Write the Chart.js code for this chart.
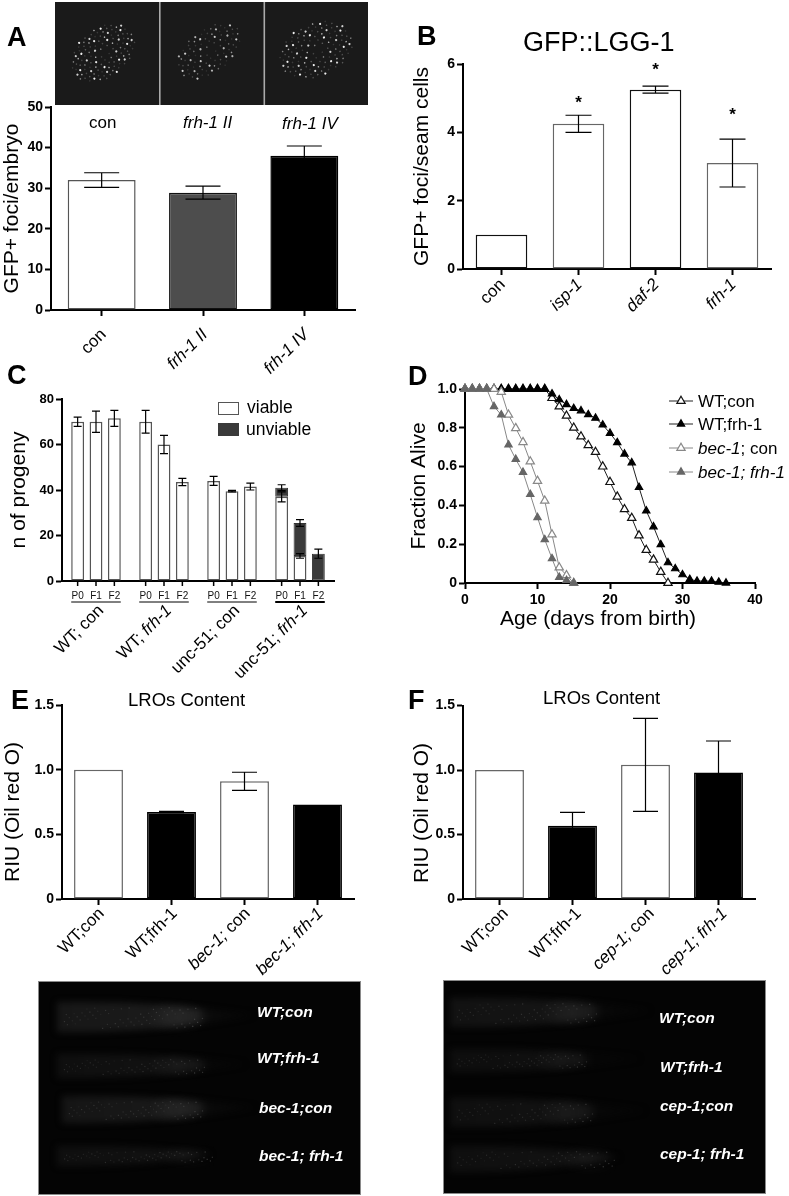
<!DOCTYPE html>
<html>
<head>
<meta charset="utf-8">
<title>frh-1 figure</title>
<script src="https://cdn.jsdelivr.net/npm/chart.js@4"></script>
<style>
  html, body { margin: 0; background: #fff; }
  #page { position: relative; width: 789px; height: 1196px; overflow: hidden; font-family: "Liberation Sans", Arial, sans-serif; color: #000; }
  #page canvas { position: absolute; }
  .txt { position: absolute; white-space: nowrap; line-height: 1; transform: translateY(-50%); }
  .up { transform-origin: center; transform: translate(-50%, -50%) rotate(-90deg); }
  .sw { position: absolute; box-sizing: border-box; border: 1.5px solid #555; background: #fff; }
</style>
</head>
<body>
<div id="page"></div>
<script>
// Panel A
var labelsA = ["con", "frh-1 II", "frh-1 IV"];
var italicA = ["", "frh-1 II", "frh-1 IV"];
var valuesA = [32, 28.9, 38];
var errA = [1.8, 1.6, 2.4];

// Panel B
var labelsB = ["con", "isp-1", "daf-2", "frh-1"];
var italicB = ["", "isp-1", "daf-2", "frh-1"];
var valuesB = [1, 4.25, 5.25, 3.1];
var errB = [0, 0.25, 0.1, 0.7];
var starsB = [null, 4.93, 5.91, 4.6];

// Panel C
var groupsC = ["WT; con", "WT; frh-1", "unc-51; con", "unc-51; frh-1"];
var italicC = ["", "frh-1", "", "frh-1"];
var generations = ["P0", "F1", "F2"];
var viableP0 = [70, 70, 44, 37];
var viableF1 = [70, 60, 39.5, 11];
var viableF2 = [71.5, 43.5, 41.5, 0];
var unviableP0 = [null, null, null, 4];
var unviableF1 = [null, null, null, 14.5];
var unviableF2 = [null, null, null, 12];
var errViableP0 = [2, 5, 2, 2.2];
var errViableF1 = [4.7, 4, 0.3, 1];
var errViableF2 = [3.5, 1.6, 1.5, 0];
var errUnviableP0 = [0, 0, 0, 1.3];
var errUnviableF1 = [0, 0, 0, 1.5];
var errUnviableF2 = [0, 0, 0, 2];

// Panel D
var days = [0, 1, 2, 3, 4, 5, 6, 7, 8, 9, 10, 11, 12, 13, 14, 15, 16, 17, 18, 19, 20, 21, 22, 23, 24, 25, 26, 27, 28, 29, 30, 31, 32, 33, 34, 35, 36];
var wtCon = [1, 1, 1, 1, 1, 1, 1, 1, 1, 1, 1, 1, 0.953, 0.91, 0.862, 0.8, 0.755, 0.71, 0.675, 0.6, 0.52, 0.445, 0.38, 0.335, 0.245, 0.17, 0.12, 0.057, 0];
var wtFrh = [1, 1, 1, 1, 1, 1, 1, 1, 1, 1, 1, 1, 0.975, 0.945, 0.92, 0.9, 0.888, 0.868, 0.85, 0.815, 0.772, 0.724, 0.665, 0.62, 0.493, 0.372, 0.29, 0.198, 0.105, 0.074, 0.043, 0.019, 0.01, 0.01, 0.01, 0.005, 0];
var becCon = [1, 1, 1, 1, 1, 0.985, 0.867, 0.798, 0.726, 0.626, 0.526, 0.424, 0.25, 0.08, 0.04, 0];
var becFrh = [1, 1, 1, 1, 0.91, 0.867, 0.712, 0.638, 0.571, 0.457, 0.338, 0.224, 0.126, 0.03, 0.014, 0];

// Panels E and F
var labelsE = ["WT;con", "WT;frh-1", "bec-1; con", "bec-1; frh-1"];
var italicE = ["", "", "bec-1;", "bec-1; frh-1"];
var valuesE = [1, 0.672, 0.91, 0.73];
var errE = [0, 0.005, 0.07, 0];
var labelsF = ["WT;con", "WT;frh-1", "cep-1; con", "cep-1; frh-1"];
var italicF = ["", "", "cep-1;", "cep-1; frh-1"];
var valuesF = [1, 0.567, 1.04, 0.98];
var errF = [0, 0.105, 0.36, 0.245];

var page = document.getElementById("page");
var sans = '"Liberation Sans", Arial, sans-serif';
Chart.defaults.font.family = sans;
Chart.defaults.color = "#000";

function note(text, x, y, size, css) {
  var d = document.createElement("div");
  d.className = "txt";
  d.innerHTML = text;
  d.style.cssText = "left:" + x + "px;top:" + y + "px;font-size:" + size + "px;" + (css || "");
  page.appendChild(d);
  return d;
}

function addCanvas(r) {
  var c = document.createElement("canvas");
  c.width = r.w;
  c.height = r.h;
  c.style.left = r.x + "px";
  c.style.top = r.y + "px";
  page.appendChild(c);
  return c;
}

// error bars, read from dataset.err, hung on the top of each bar
var errorBars = {
  id: "errorBars",
  afterDatasetsDraw: function (chart) {
    var ctx = chart.ctx, y = chart.scales.y;
    chart.data.datasets.forEach(function (ds, i) {
      if (!ds.err) return;
      chart.getDatasetMeta(i).data.forEach(function (el, k) {
        if (!ds.err[k]) return;
        var dy = Math.abs(y.getPixelForValue(ds.err[k]) - y.getPixelForValue(0));
        var cap = ds.errCap / 2;
        ctx.save();
        ctx.strokeStyle = "#000";
        ctx.lineWidth = 1.2;
        ctx.beginPath();
        ctx.moveTo(el.x, el.y - dy); ctx.lineTo(el.x, el.y + dy);
        ctx.moveTo(el.x - cap, el.y - dy); ctx.lineTo(el.x + cap, el.y - dy);
        ctx.moveTo(el.x - cap, el.y + dy); ctx.lineTo(el.x + cap, el.y + dy);
        ctx.stroke();
        ctx.restore();
      });
    });
  }
};

// 45 degree category labels with an italic part, which ticks can't do
var slantLabels = {
  id: "slantLabels",
  afterDraw: function (chart, args, opts) {
    var ctx = chart.ctx, x = chart.scales.x, bottom = chart.chartArea.bottom;
    x.getLabels().forEach(function (label, i) {
      var it = opts.italic[i], at = it ? label.indexOf(it) : -1;
      var runs = at < 0 ? [[label, ""]] : [[label.slice(0, at), ""], [it, "italic "], [label.slice(at + it.length), ""]];
      var total = 0;
      runs.forEach(function (r) { ctx.font = r[1] + opts.size + "px " + sans; total += ctx.measureText(r[0]).width; });
      ctx.save();
      ctx.translate(x.getPixelForTick(i) + opts.dx, bottom + opts.dy);
      ctx.rotate(-Math.PI / 4);
      ctx.fillStyle = "#000";
      ctx.textBaseline = "middle";
      ctx.textAlign = "left";
      var pos = -total;
      runs.forEach(function (r) {
        ctx.font = r[1] + opts.size + "px " + sans;
        ctx.fillText(r[0], pos, 0);
        pos += ctx.measureText(r[0]).width;
      });
      ctx.restore();
    });
  }
};

var significance = {
  id: "significance",
  afterDatasetsDraw: function (chart, args, opts) {
    if (!opts.values) return;
    var ctx = chart.ctx;
    ctx.save();
    ctx.font = "bold 17px " + sans;
    ctx.textAlign = "center";
    ctx.textBaseline = "middle";
    ctx.fillStyle = "#000";
    opts.values.forEach(function (v, i) {
      if (v !== null) ctx.fillText("*", chart.scales.x.getPixelForTick(i), chart.scales.y.getPixelForValue(v) + 3);
    });
    ctx.restore();
  }
};

// P0/F1/F2 ticks and the line under every group in panel C
var generationTicks = {
  id: "generationTicks",
  afterDraw: function (chart) {
    var ctx = chart.ctx, bottom = chart.chartArea.bottom;
    ctx.save();
    ctx.strokeStyle = "#000";
    ctx.fillStyle = "#111";
    ctx.textAlign = "center";
    ctx.textBaseline = "middle";
    ctx.font = "10px " + sans;
    var first = chart.getDatasetMeta(0).data, last = chart.getDatasetMeta(4).data;
    generations.forEach(function (g, n) {
      chart.getDatasetMeta(n * 2).data.forEach(function (el) {
        ctx.lineWidth = 1.5;
        ctx.beginPath();
        ctx.moveTo(el.x, bottom);
        ctx.lineTo(el.x, bottom + 5);
        ctx.stroke();
        ctx.fillText(g, el.x, bottom + 15);
      });
    });
    first.forEach(function (el, i) {
      ctx.lineWidth = i === 3 ? 2 : 1;
      ctx.beginPath();
      ctx.moveTo(el.x - el.width / 2, bottom + 21);
      ctx.lineTo(last[i].x + last[i].width / 2, bottom + 21);
      ctx.stroke();
    });
    ctx.restore();
  }
};

function xAxis(height, extra) {
  var a = {
    grid: { offset: false, drawOnChartArea: false, tickLength: 6, tickColor: "#000", tickWidth: 2 },
    border: { color: "#000", width: 2 },
    ticks: { display: false },
    afterFit: function (s) { s.height = height; }
  };
  return Object.assign(a, extra || {});
}

function yAxis(width, max, step, size, title, pad) {
  return {
    min: 0,
    max: max,
    grid: { drawOnChartArea: false, tickLength: 6, tickColor: "#000", tickWidth: 2 },
    border: { color: "#000", width: 2 },
    ticks: { stepSize: step, padding: 2, font: { size: size, weight: "bold" } },
    title: { display: !!title, text: title, font: { size: 21 }, padding: { top: pad, bottom: 0 } },
    afterFit: function (s) { s.width = width; }
  };
}

function barPanel(p) {
  var r = p.rect;
  new Chart(addCanvas(r), {
    type: "bar",
    data: {
      labels: p.labels,
      datasets: [{
        data: p.values,
        err: p.err,
        errCap: p.cap,
        backgroundColor: p.fill,
        borderColor: p.line,
        borderWidth: 1.5,
        borderSkipped: false,
        categoryPercentage: 1,
        barPercentage: 0.67
      }]
    },
    options: {
      responsive: false,
      animation: false,
      layout: { padding: { top: p.top - r.y, right: r.x + r.w - p.right } },
      scales: {
        x: xAxis(r.y + r.h - p.bottom),
        y: yAxis(p.left - r.x, p.max, p.step, p.tick, p.title, p.pad)
      },
      plugins: {
        legend: { display: false },
        tooltip: { enabled: false },
        slantLabels: { italic: p.italic, size: 17, dx: p.dx, dy: p.dy },
        significance: { values: p.stars }
      }
    },
    plugins: [errorBars, slantLabels, significance]
  });
}

// --- photos: plain dark panels with a rough impression of the micrographs
var photo = addCanvas({ x: 0, y: 0, w: 789, h: 1196 });
var g = photo.getContext("2d");

function grey(l) {
  l = Math.round(l);
  return "rgb(" + l + "," + l + "," + l + ")";
}

function embryo(cx, cy, rx, ry, tilt, n, glow) {
  g.save();
  g.translate(cx, cy);
  g.rotate(tilt);
  for (var i = 1; i <= n; i++) {
    var d = Math.pow(i / n, 0.42) * 0.98, th = i * 2.39996;
    g.fillStyle = grey([240, 70, 130, 55, 175, 90, 60, 210, 80][i % 9] * glow);
    g.beginPath();
    g.arc(d * rx * Math.cos(th), d * ry * Math.sin(th), i % 9 === 0 || i % 9 === 7 ? 1.1 : 0.8, 0, 7);
    g.fill();
  }
  g.restore();
}

function worm(x0, x1, bright, y0, y1, lum) {
  var grad = g.createLinearGradient(x0, 0, x1, 0);
  var stop = (bright - x0) / (x1 - x0);
  grad.addColorStop(0, grey(lum * 0.75));
  grad.addColorStop(stop * 0.6, grey(lum * 0.85));
  grad.addColorStop(stop, grey(lum));
  grad.addColorStop(Math.min(stop + 0.05, 1), grey(lum * 0.35));
  grad.addColorStop(1, grey(6));
  g.save();
  g.filter = "blur(3px)";
  g.fillStyle = grad;
  g.beginPath();
  g.moveTo(x0, y0);
  g.quadraticCurveTo((x0 + x1) / 2, y0 - 2, x1, (y0 + y1) / 2 - 2);
  g.quadraticCurveTo((x0 + x1) / 2, y1 + 2, x0, y1);
  g.closePath();
  g.fill();
  // the brighter patch just ahead of the tail
  var blob = g.createRadialGradient(bright - 22, (y0 + y1) / 2, 1, bright - 22, (y0 + y1) / 2, 30);
  blob.addColorStop(0, "rgba(255,255,255," + lum / 640 + ")");
  blob.addColorStop(1, "rgba(255,255,255,0)");
  g.fillStyle = blob;
  g.fillRect(bright - 55, y0, 60, y1 - y0);
  g.restore();
  // speckle
  var w = bright - x0, h = y1 - y0;
  for (var i = 1; i < 70; i++) {
    var fx = (i * 0.618034) % 1, fy = (i * 0.754878) % 1;
    g.fillStyle = grey(lum + 6 + (i % 5) * 4 + 18 * fx * fx);
    g.fillRect(x0 + 5 + fx * w, y0 + 5 + fy * (h - 9), 1.2, 1.2);
  }
}

g.fillStyle = "#1a1a1a";
g.fillRect(55, 2, 313, 103);
g.fillStyle = "#aaa";
g.fillRect(159, 2, 1.6, 103);
g.fillRect(263.5, 2, 1.6, 103);
embryo(103, 53, 36, 25, -0.65, 120, 1);
embryo(209, 51, 37, 22, -0.65, 90, 0.85);
embryo(316, 50, 39, 27, -0.4, 120, 1);

g.fillStyle = "#040404";
g.strokeStyle = "#8a8a8a";
g.lineWidth = 1;
g.fillRect(39, 982, 321, 212);
g.strokeRect(38.5, 981.5, 322, 213);
g.fillRect(444, 981, 321, 212);
g.strokeRect(443.5, 980.5, 322, 213);
worm(57, 253, 198, 1002, 1032, 30);
worm(57, 245, 200, 1054, 1078, 20);
worm(62, 255, 198, 1096, 1123, 28);
worm(57, 212, 208, 1146, 1166, 20);
worm(450, 650, 592, 998, 1027, 24);
worm(450, 640, 582, 1049, 1072, 18);
worm(450, 645, 588, 1098, 1127, 20);
worm(450, 620, 610, 1146, 1172, 20);

// --- charts
barPanel({
  rect: { x: 0, y: 92, w: 395, h: 290 }, left: 51, right: 355, top: 107, bottom: 310,
  labels: labelsA, italic: italicA, values: valuesA, err: errA, cap: 35,
  fill: ["#fff", "#4d4d4d", "#000"], line: ["#555", "#111", "#000"],
  max: 50, step: 10, tick: 14, title: "GFP+ foci/embryo", pad: 0, dx: 2, dy: 22
});

barPanel({
  rect: { x: 400, y: 52, w: 385, h: 270 }, left: 463, right: 771, top: 64, bottom: 269,
  labels: labelsB, italic: italicB, values: valuesB, err: errB, cap: 26, stars: starsB,
  fill: "#fff", line: ["#111", "#666", "#111", "#666"],
  max: 6, step: 2, tick: 14, title: "GFP+ foci/seam cells", pad: 10, dx: 1, dy: 13
});

var viable = [viableP0, viableF1, viableF2];
var unviable = [unviableP0, unviableF1, unviableF2];
var errViable = [errViableP0, errViableF1, errViableF2];
var errUnviable = [errUnviableP0, errUnviableF1, errUnviableF2];
var datasetsC = [];
generations.forEach(function (gen, n) {
  datasetsC.push({ data: viable[n], err: errViable[n], errCap: 8, stack: gen, backgroundColor: "#fff", borderColor: "#555", borderWidth: 1.5, borderSkipped: false, categoryPercentage: 0.81, barPercentage: 0.7 });
  datasetsC.push({ data: unviable[n], err: errUnviable[n], errCap: 8, stack: gen, backgroundColor: "#3a3a3a", borderColor: "#333", borderWidth: 1, borderSkipped: false, categoryPercentage: 0.81, barPercentage: 0.7 });
});
var rectC = { x: 0, y: 388, w: 395, h: 292 };
new Chart(addCanvas(rectC), {
  type: "bar",
  data: { labels: groupsC, datasets: datasetsC },
  options: {
    responsive: false,
    animation: false,
    layout: { padding: { top: 399 - rectC.y, right: rectC.w - 334 } },
    scales: {
      x: xAxis(rectC.y + rectC.h - 581, { stacked: true, grid: { display: false } }),
      y: Object.assign(yAxis(62, 80, 20, 13, "n of progeny", 7), { stacked: true })
    },
    plugins: {
      legend: { display: false },
      tooltip: { enabled: false },
      slantLabels: { italic: italicC, size: 17, dx: 5, dy: 27 }
    }
  },
  plugins: [errorBars, slantLabels, generationTicks]
});

var seriesD = [
  { label: "WT;con", data: wtCon, line: "#222", marker: "#111", fill: "#fff", radius: 4.8 },
  { label: "WT;frh-1", data: wtFrh, line: "#222", marker: "#000", fill: "#000", radius: 4.2 },
  { label: "bec-1; con", data: becCon, line: "#888", marker: "#888", fill: "#fff", radius: 4.8 },
  { label: "bec-1; frh-1", data: becFrh, line: "#888", marker: "#666", fill: "#666", radius: 4.2 }
];
// order the legend is read in: top to bottom, line and triangle
var legendRowsD = [401, 424, 448, 472];
var markerLegend = {
  id: "markerLegend",
  afterDraw: function (chart) {
    var ctx = chart.ctx, left = 669 - rectD.x, right = 693 - rectD.x;
    seriesD.forEach(function (s, i) {
      var y = legendRowsD[i] - rectD.y;
      ctx.save();
      ctx.strokeStyle = s.line;
      ctx.lineWidth = 1;
      ctx.beginPath();
      ctx.moveTo(left, y);
      ctx.lineTo(right, y);
      ctx.stroke();
      ctx.fillStyle = s.fill;
      ctx.strokeStyle = s.marker;
      ctx.lineWidth = 1.2;
      Chart.helpers.drawPoint(ctx, { pointStyle: "triangle", rotation: 0, radius: s.radius, borderWidth: 1.2 }, (left + right) / 2, y);
      ctx.restore();
    });
  }
};
var rectD = { x: 400, y: 375, w: 389, h: 240 };
new Chart(addCanvas(rectD), {
  type: "line",
  data: {
    labels: days,
    datasets: seriesD.map(function (s, i) {
      return {
        label: s.label,
        data: s.data,
        order: 3 - i,
        borderColor: s.line,
        borderWidth: 1,
        tension: 0,
        clip: false,
        pointStyle: "triangle",
        pointRadius: s.radius,
        pointBorderWidth: 1.2,
        pointBorderColor: s.marker,
        pointBackgroundColor: s.fill
      };
    })
  },
  options: {
    responsive: false,
    animation: false,
    layout: { padding: { top: 389 - rectD.y, right: rectD.x + rectD.w - 755 } },
    scales: {
      x: xAxis(rectD.y + rectD.h - 583, {
        type: "linear",
        min: 0,
        max: 40,
        ticks: { display: true, stepSize: 10, maxRotation: 0, padding: 3, font: { size: 14, weight: "bold" } }
      }),
      y: yAxis(65, 1, 0.2, 14, "Fraction Alive", 7)
    },
    plugins: { legend: { display: false }, tooltip: { enabled: false } }
  },
  plugins: [markerLegend]
});

barPanel({
  rect: { x: 0, y: 693, w: 395, h: 295 }, left: 62, right: 354, top: 705, bottom: 899,
  labels: labelsE, italic: italicE, values: valuesE, err: errE, cap: 25,
  fill: ["#fff", "#000", "#fff", "#000"], line: ["#666", "#000", "#666", "#000"],
  max: 1.5, step: 0.5, tick: 14, title: "", pad: 0, dx: 3, dy: 12
});

barPanel({
  rect: { x: 400, y: 693, w: 385, h: 295 }, left: 463, right: 755, top: 705.5, bottom: 899,
  labels: labelsF, italic: italicF, values: valuesF, err: errF, cap: 25,
  fill: ["#fff", "#000", "#fff", "#000"], line: ["#666", "#000", "#666", "#000"],
  max: 1.5, step: 0.5, tick: 14, title: "", pad: 0, dx: 6, dy: 12
});

// --- everything that sits outside the axes
var bold = "font-weight:bold;";
note("A", 7, 37, 27, bold);
note("B", 417, 36, 27, bold);
note("C", 7, 375, 27, bold);
note("D", 408, 376, 27, bold);
note("E", 11, 700, 27, bold);
note("F", 408, 700, 27, bold);

note("con", 89, 122, 17);
note("frh-1 II", 183, 122, 17, "font-style:italic;");
note("frh-1 IV", 282, 123, 17, "font-style:italic;");

note("GFP::LGG-1", 523, 42, 27);
note("LROs Content", 128, 700, 18.5);
note("LROs Content", 543, 698, 18.5);

note("RIU (Oil red O)", 11, 812, 21).classList.add("up");
note("RIU (Oil red O)", 420, 813, 21).classList.add("up");
note("Age (days from birth)", 500, 617, 21);

var swatch = document.createElement("div");
swatch.className = "sw";
swatch.style.cssText = "left:218px;top:402px;width:21px;height:13px;";
page.appendChild(swatch);
var swatch2 = document.createElement("div");
swatch2.className = "sw";
swatch2.style.cssText = "left:218px;top:423px;width:21px;height:13px;background:#3a3a3a;border-color:#3a3a3a;";
page.appendChild(swatch2);
note("viable", 247, 408, 17.5);
note("unviable", 246, 430, 17.5);

note("WT;con", 698, 401, 17);
note("WT;frh-1", 698, 424, 17);
note("<i>bec-1</i>; con", 698, 448, 17);
note("<i>bec-1; frh-1</i>", 698, 472, 17);

var capt = "font-weight:bold;font-style:italic;color:#fff;";
note("WT;con", 257, 1012, 15.5, capt);
note("WT;frh-1", 257, 1058, 15.5, capt);
note("bec-1;con", 259, 1108, 15.5, capt);
note("bec-1; frh-1", 259, 1156, 15.5, capt);
note("WT;con", 659, 1018, 15.5, capt);
note("WT;frh-1", 660, 1067, 15.5, capt);
note("cep-1;con", 660, 1106, 15.5, capt);
note("cep-1; frh-1", 660, 1154, 15.5, capt);
</script>
</body>
</html>
